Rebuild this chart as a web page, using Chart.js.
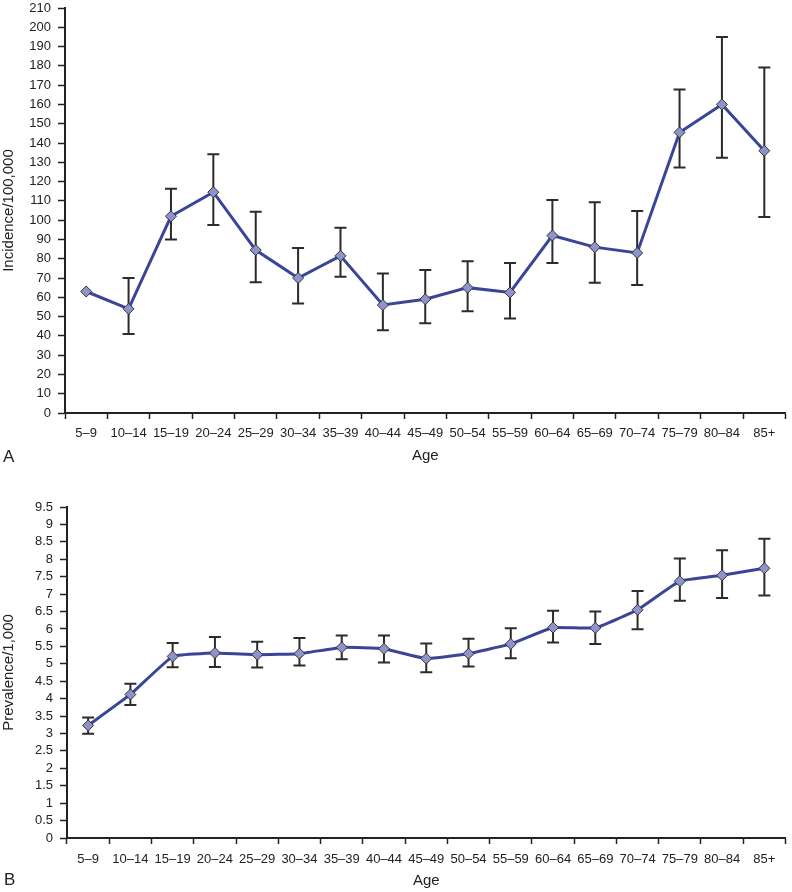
<!DOCTYPE html>
<html>
<head>
<meta charset="utf-8">
<script src="https://cdn.jsdelivr.net/npm/chart.js@4/dist/chart.umd.min.js"></script>
<style>
  html, body { margin: 0; padding: 0; background: #fff; }
  body { width: 792px; height: 892px; position: relative; overflow: hidden; font-family: "Liberation Sans", Arial, sans-serif; }
  .wrap { position: absolute; left: 0; width: 792px; }
  .panel { position: absolute; left: 3px; font-size: 17px; color: #222; }
</style>
</head>
<body>
<div class="wrap" style="top:0;height:470px;"><canvas id="c1"></canvas></div>
<div class="wrap" style="top:470px;height:422px;"><canvas id="c2"></canvas></div>
<div class="panel" style="top:447px;">A</div>
<div class="panel" style="top:870px;left:4px;">B</div>
<script>
const categories = ["5\u20139","10\u201314","15\u201319","20\u201324","25\u201329","30\u201334","35\u201339","40\u201344","45\u201349","50\u201354","55\u201359","60\u201364","65\u201369","70\u201374","75\u201379","80\u201384","85+"];

const incidence     = [63, 54, 102, 114.5, 84.5, 70, 81.5, 56, 59, 65, 62.5, 92, 86, 83, 145.5, 160, 136];
const incidenceLow  = [null, 41, 90, 97.5, 67.8, 56.8, 70.6, 42.9, 46.5, 52.8, 49, 77.8, 67.5, 66.4, 127.3, 132.3, 101.6];
const incidenceHigh = [null, 70, 116.3, 134.2, 104.3, 85.5, 96, 72.3, 74.2, 78.7, 77.8, 110.5, 109.3, 104.7, 167.8, 195, 179.2];

const prevalence     = [3.23, 4.12, 5.21, 5.31, 5.26, 5.29, 5.47, 5.43, 5.15, 5.29, 5.57, 6.04, 6.03, 6.55, 7.37, 7.54, 7.74];
const prevalenceLow  = [2.99, 3.82, 4.90, 4.91, 4.89, 4.95, 5.13, 5.04, 4.76, 4.92, 5.16, 5.61, 5.57, 5.99, 6.81, 6.89, 6.96];
const prevalenceHigh = [3.46, 4.43, 5.60, 5.77, 5.63, 5.74, 5.81, 5.81, 5.58, 5.72, 6.02, 6.52, 6.50, 7.09, 8.02, 8.26, 8.59];

const incidenceTicks = { min: 0, max: 210, step: 10 };
const prevalenceTicks = { min: 0, max: 9.5, step: 0.5 };

const FONT = "'Liberation Sans', Arial, Helvetica, sans-serif";
const INK = "#222222";
const LINE = "#3a4597";
const MARK = "#8d94c9";

function errorBarPlugin(lows, highs) {
  return {
    id: 'errbars',
    beforeDatasetsDraw(chart) {
      const ctx = chart.ctx;
      const xs = chart.scales.x, ys = chart.scales.y;
      ctx.save();
      ctx.strokeStyle = "#2b2b2b";
      ctx.lineWidth = 2;
      for (let i = 0; i < lows.length; i++) {
        if (lows[i] == null || highs[i] == null) continue;
        const x = xs.getPixelForValue(i);
        const y1 = ys.getPixelForValue(lows[i]);
        const y2 = ys.getPixelForValue(highs[i]);
        ctx.beginPath();
        ctx.moveTo(x, y1); ctx.lineTo(x, y2);
        ctx.moveTo(x - 6, y1); ctx.lineTo(x + 6, y1);
        ctx.moveTo(x - 6, y2); ctx.lineTo(x + 6, y2);
        ctx.stroke();
      }
      ctx.restore();
    }
  };
}

function makeChart(id, values, lows, highs, tk, yTitle, yWidth, xHeight, pad, tension, tickPad) {
  return new Chart(document.getElementById(id), {
    type: 'line',
    data: {
      labels: categories,
      datasets: [{
        data: values,
        borderColor: LINE,
        borderWidth: 3,
        tension: tension,
        pointStyle: 'rectRot',
        pointRadius: 5.5,
        pointBackgroundColor: MARK,
        pointBorderColor: "#333",
        pointBorderWidth: 1
      }]
    },
    options: {
      responsive: true,
      maintainAspectRatio: false,
      animation: false,
      layout: { padding: pad },
      plugins: { legend: { display: false }, tooltip: { enabled: false } },
      scales: {
        x: {
          offset: true,
          grid: { offset: true, drawOnChartArea: false, drawTicks: true, tickLength: 6, tickWidth: 1.5, tickColor: INK },
          border: { display: true, color: INK, width: 2 },
          ticks: { color: INK, font: { family: FONT, size: 13 }, padding: tickPad, maxRotation: 0, autoSkip: false },
          title: { display: true, text: 'Age', color: INK, font: { family: FONT, size: 15 }, padding: { top: 3, bottom: 0 } },
          afterFit(s) { s.height = xHeight; s.paddingLeft = 0; s.paddingRight = 0; }
        },
        y: {
          min: tk.min, max: tk.max,
          grid: { drawOnChartArea: false, drawTicks: true, tickLength: 7, tickWidth: 1.5, tickColor: INK },
          border: { display: true, color: INK, width: 2 },
          ticks: {
            stepSize: tk.step, color: INK, font: { family: FONT, size: 13 }, padding: 7, autoSkip: false,
            callback: (v) => String(Math.round(v * 10) / 10)
          },
          title: { display: true, text: yTitle, color: INK, font: { family: FONT, size: 15 }, padding: { top: 0, bottom: 2 } },
          afterFit(s) { s.width = yWidth; s.paddingTop = 0; s.paddingBottom = 0; }
        }
      }
    },
    plugins: [errorBarPlugin(lows, highs)]
  });
}

makeChart('c1', incidence, incidenceLow, incidenceHigh, incidenceTicks, 'Incidence/100,000', 65, 52, { top: 8, right: 5, bottom: 5, left: 0 }, 0, 7);
makeChart('c2', prevalence, prevalenceLow, prevalenceHigh, prevalenceTicks, 'Prevalence/1,000', 67, 52, { top: 37, right: 2, bottom: 2, left: 0 }, 0.1, 8);
</script>
</body>
</html>
